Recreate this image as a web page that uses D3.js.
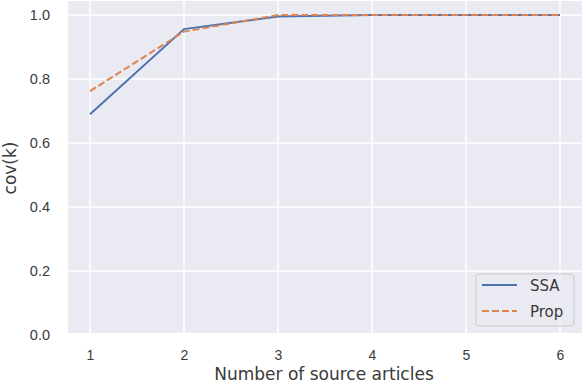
<!DOCTYPE html>
<html>
<head>
<meta charset="utf-8">
<script src="https://cdn.jsdelivr.net/npm/d3@7"></script>
<style>
  body { margin: 0; background: #fff; }
  svg { display: block; font-family: "DejaVu Sans", sans-serif; }
</style>
</head>
<body>
<div id="chart"></div>
<script>
const ks = [1, 2, 3, 4, 5, 6]
const ssa = [0.69, 0.956, 0.995, 1.0, 1.0, 1.0]
const prop = [0.762, 0.948, 1.0, 1.0, 1.0, 1.0]
const yTicks = [0.0, 0.2, 0.4, 0.6, 0.8, 1.0]
const seriesNames = ["SSA", "Prop"]

const width = 582, height = 384
const plot = {left: 68, right: 582, top: 1, bottom: 333}

const svg = d3.select("#chart").append("svg")
    .attr("width", width)
    .attr("height", height)

const x = d3.scaleLinear().domain([1, 6]).range([90, 560])
const y = d3.scaleLinear().domain([0, 1]).range([335, 15])

// background
svg.append("rect")
    .attr("x", plot.left).attr("y", plot.top)
    .attr("width", plot.right - plot.left).attr("height", plot.bottom - plot.top)
    .attr("fill", "#eaeaf2")

// grid
svg.append("g").selectAll("line")
    .data(ks).enter().append("line")
    .attr("x1", d => x(d)).attr("x2", d => x(d))
    .attr("y1", plot.top).attr("y2", plot.bottom)
    .attr("stroke", "#fff").attr("stroke-width", 1.5)

svg.append("g").selectAll("line")
    .data(yTicks.filter(d => y(d) < plot.bottom)).enter().append("line")
    .attr("x1", plot.left).attr("x2", plot.right)
    .attr("y1", d => y(d)).attr("y2", d => y(d))
    .attr("stroke", "#fff").attr("stroke-width", 1.5)

// axes
const xAxis = d3.axisBottom(x).tickValues(ks).tickSize(0).tickPadding(17).tickFormat(d3.format("d"))
const yAxis = d3.axisLeft(y).tickValues(yTicks).tickSize(0).tickPadding(18).tickFormat(d3.format(".1f"))

svg.append("g")
    .attr("transform", `translate(0,${plot.bottom})`)
    .call(xAxis)
    .call(g => g.select(".domain").remove())
    .selectAll("text").attr("font-size", 14).attr("fill", "#3a3a3a")

svg.append("g")
    .attr("transform", `translate(${plot.left},0)`)
    .call(yAxis)
    .call(g => g.select(".domain").remove())
    .selectAll("text").attr("font-size", 14.5).attr("fill", "#3a3a3a")

svg.append("text")
    .attr("x", 324).attr("y", 380)
    .attr("text-anchor", "middle").attr("font-size", 17).attr("fill", "#3a3a3a")
    .text("Number of source articles")

svg.append("text")
    .attr("transform", `translate(16,168) rotate(-90)`)
    .attr("text-anchor", "middle").attr("font-size", 17).attr("fill", "#3a3a3a")
    .text("cov(k)")

// lines
const line = d3.line().x((d, i) => x(ks[i])).y(d => y(d))

svg.append("path").datum(ssa)
    .attr("d", line).attr("fill", "none")
    .attr("stroke", "#4c72b0").attr("stroke-width", 2)

svg.append("path").datum(prop)
    .attr("d", line).attr("fill", "none")
    .attr("stroke", "#dd8452").attr("stroke-width", 2)
    .attr("stroke-dasharray", "7,3")

// legend
const legend = svg.append("g")
legend.append("rect")
    .attr("x", 476).attr("y", 274).attr("width", 98).attr("height", 52).attr("rx", 3)
    .attr("fill", "#eaeaf2").attr("fill-opacity", 0.8)
    .attr("stroke", "#cccccc").attr("stroke-width", 1)

const colors = ["#4c72b0", "#dd8452"]
const dashes = [null, "7,3"]
seriesNames.forEach((name, i) => {
    const ly = 285 + i * 26
    legend.append("line")
        .attr("x1", 482).attr("x2", 517).attr("y1", ly).attr("y2", ly)
        .attr("stroke", colors[i]).attr("stroke-width", 2)
        .attr("stroke-dasharray", dashes[i])
    legend.append("text")
        .attr("x", 530).attr("y", ly + 6)
        .attr("font-size", 15).attr("fill", "#3a3a3a")
        .text(name)
})
</script>
</body>
</html>
